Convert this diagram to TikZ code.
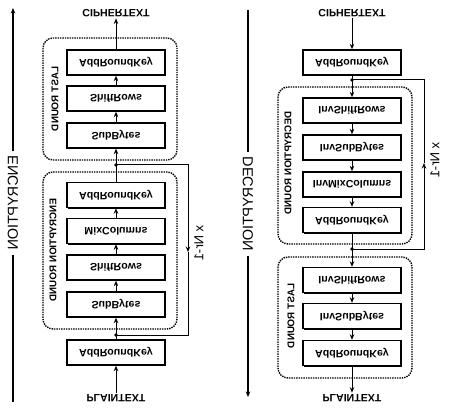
\documentclass[tikz,border=0pt]{standalone}
\usepackage{fontspec}
\setmainfont{Liberation Sans}
\usetikzlibrary{arrows.meta,shadows}
\begin{document}
\begin{tikzpicture}[x=1pt,y=1pt,yscale=-1,transform shape,
  box/.style={draw, line width=1.4pt, minimum width=98pt, minimum height=25pt, inner sep=0pt,
    font=\fontsize{10.6}{12}\selectfont\bfseries, fill=white,
    drop shadow={opacity=1, shadow xshift=1.4pt, shadow yshift=-1.4pt, fill=black}},
  grp/.style={draw, densely dotted, line width=1.4pt, rounded corners=10pt},
  flow/.style={line width=1pt, -{Stealth[length=5.5pt,width=4.5pt]}},
  plain/.style={line width=1pt},
  io/.style={font=\fontsize{10.6}{12}\selectfont\bfseries, inner sep=1.5pt},
  side/.style={font=\fontsize{14.5}{16}\selectfont, rotate=90, inner sep=4pt},
  grplbl/.style={font=\fontsize{9.8}{11}\selectfont\bfseries, rotate=90, inner sep=0pt},
  lbl/.style={font=\fontsize{13}{14}\selectfont, rotate=90, inner sep=0pt},
  dot/.style={circle, fill, inner sep=0pt, minimum size=3.8pt}]
\useasboundingbox (0,0) rectangle (450,409);

% ---------------- Encryption ----------------
\draw[grp] (43,38) rectangle (177,160);
\draw[grp] (43,172) rectangle (177,329);
\node[grplbl] (g1) at (55,99) {LAST ROUND};
\node[grplbl] (g2) at (53,250) {ENCRYPTION ROUND};

\node[io] (ct1) at (116,13) {CIPHERTEXT};
\node[box] (lark1) at (116,62.5) {AddRoundKey};
\node[box] (lsr1) at (116,98.5) {ShiftRows};
\node[box] (lsb1) at (116,135.5) {SubBytes};
\coordinate (j1a) at (116,165);
\node[box] (rark1) at (116,195) {AddRoundKey};
\node[box] (rmc1) at (116,231) {MixColumns};
\node[box] (rsr1) at (116,267.5) {ShiftRows};
\node[box] (rsb1) at (116,304.5) {SubBytes};
\coordinate (j1b) at (116,335);
\node[box] (iark1) at (116,352.5) {AddRoundKey};
\node[io] (pt1) at (116,398) {PLAINTEXT};

\draw[flow] (pt1) -- (iark1);
\draw[flow] (iark1) -- (rsb1);
\draw[flow] (rsb1) -- (rsr1);
\draw[flow] (rsr1) -- (rmc1);
\draw[flow] (rmc1) -- (rark1);
\draw[flow] (rark1) -- (lsb1);
\draw[flow] (lsb1) -- (lsr1);
\draw[flow] (lsr1) -- (lark1);
\draw[flow] (lark1) -- (ct1);

\coordinate (l1top) at (188,165);
\coordinate (l1mid) at (188,252);
\coordinate (l1bot) at (188,335);
\draw[flow] (j1a) -- (l1top) -- (l1mid);
\draw[plain] (l1mid) -- (l1bot) -- (j1b);
\node[dot] (d1a) at (j1a) {};
\node[dot] (d1b) at (j1b) {};
\node[lbl] (n1) at (199,243) {x Nr-1};

\coordinate (s1top) at (13,8);
\coordinate (s1bot) at (13,402);
\node[side] (s1) at (13,203) {ENCRYPTION};
\draw[flow, line width=1.2pt] (s1) -- (s1top);
\draw[plain, line width=1.2pt] (s1bot) -- (s1);

% ---------------- Decryption ----------------
\draw[grp] (278,87) rectangle (412,244);
\draw[grp] (278,257) rectangle (412,378);
\node[grplbl] (g3) at (288,163) {DECRYPTION ROUND};
\node[grplbl] (g4) at (291,316) {LAST ROUND};

\node[io] (ct2) at (352,13) {CIPHERTEXT};
\node[box] (iark2) at (352,62.5) {AddRoundKey};
\coordinate (j2a) at (352,80);
\node[box] (risr2) at (352,110.5) {InvShiftRows};
\node[box] (risb2) at (352,147.5) {InvSubBytes};
\node[box] (rimc2) at (352,184.5) {InvMixColumns};
\node[box] (rark2) at (352,220) {AddRoundKey};
\coordinate (j2b) at (352,249);
\node[box] (lisr2) at (352,280) {InvShiftRows};
\node[box] (lisb2) at (352,316) {InvSubBytes};
\node[box] (lark2) at (352,353) {AddRoundKey};
\node[io] (pt2) at (352,398) {PLAINTEXT};

\draw[flow] (ct2) -- (iark2);
\draw[flow] (iark2) -- (risr2);
\draw[flow] (risr2) -- (risb2);
\draw[flow] (risb2) -- (rimc2);
\draw[flow] (rimc2) -- (rark2);
\draw[flow] (rark2) -- (lisr2);
\draw[flow] (lisr2) -- (lisb2);
\draw[flow] (lisb2) -- (lark2);
\draw[flow] (lark2) -- (pt2);

\coordinate (l2bot) at (424,249);
\coordinate (l2mid) at (424,163);
\coordinate (l2top) at (424,80);
\draw[flow] (j2b) -- (l2bot) -- (l2mid);
\draw[plain] (l2mid) -- (l2top) -- (j2a);
\node[dot] (d2a) at (j2a) {};
\node[dot] (d2b) at (j2b) {};
\node[lbl] (n2) at (435,160) {x Nr-1};

\coordinate (s2top) at (248,10);
\coordinate (s2bot) at (248,397);
\node[side] (s2) at (248,204) {DECRYPTION};
\draw[plain, line width=1.2pt] (s2top) -- (s2);
\draw[flow, line width=1.2pt] (s2) -- (s2bot);
\end{tikzpicture}
\end{document}
